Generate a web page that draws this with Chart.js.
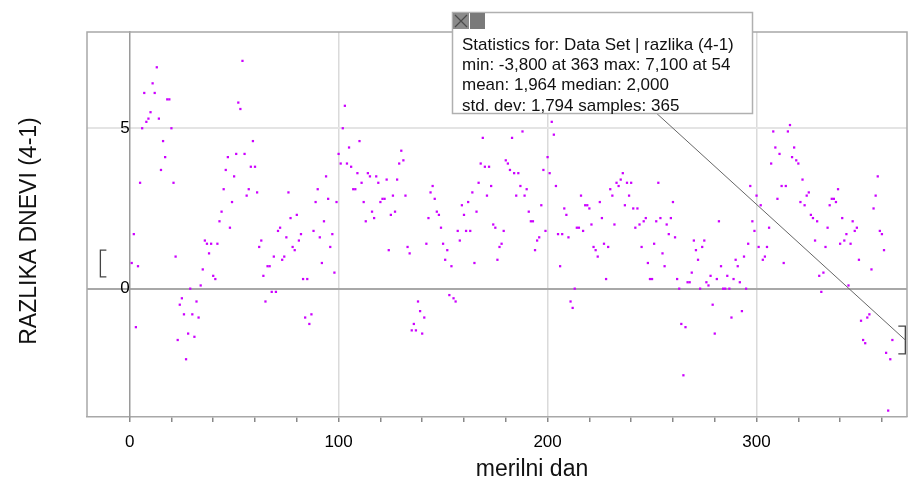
<!DOCTYPE html>
<html>
<head>
<meta charset="utf-8">
<script src="https://cdn.jsdelivr.net/npm/chart.js@4.4.1/dist/chart.umd.min.js"></script>
<style>
html,body{margin:0;padding:0;background:#fff;}
#wrap{width:910px;height:485px;position:relative;}
</style>
</head>
<body>
<div id="wrap"><canvas id="c" width="910" height="485"></canvas></div>
<script>
// Daily values of "razlika (4-1)", day 1..365
const razlika = [
  0.8, 1.7, -1.2, 0.7, 3.3, 5.0, 6.1, 5.2, 5.3, 5.5,
  6.4, 6.1, 6.9, 5.3, 3.7, 4.6, 4.1, 5.9, 5.9, 5.0,
  3.3, 1.0, -1.6, -0.5, -0.3, -0.8, -2.2, -1.4, 0.0, -0.8,
  -1.5, -0.4, -0.9, 0.1, 0.6, 1.5, 1.4, 1.1, 1.4, 0.4,
  0.3, 1.4, 2.1, 2.4, 3.1, 3.7, 4.1, 1.9, 2.7, 3.5,
  4.2, 5.8, 5.6, 7.1, 4.2, 2.9, 3.1, 3.8, 4.6, 3.8,
  3.0, 1.3, 1.5, 0.4, -0.4, 0.7, 0.7, -0.1, 1.0, -0.1,
  1.8, 1.9, 0.9, 1.0, 1.6, 3.0, 2.2, 1.3, 1.2, 2.3,
  1.5, 1.7, 0.3, -0.9, 0.3, -1.1, -0.8, 1.8, 2.7, 3.1,
  1.6, 0.8, 2.1, 3.5, 2.8, 1.3, 1.7, 0.5, 2.7, 4.2,
  3.9, 5.0, 5.7, 3.9, 4.4, 3.8, 3.1, 3.1, 3.6, 4.6,
  3.3, 2.7, 2.1, 3.6, 3.5, 2.4, 2.2, 3.5, 3.3, 2.7,
  2.8, 2.8, 3.4, 1.2, 2.3, 2.9, 2.4, 3.4, 3.9, 4.3,
  4.0, 2.9, 1.3, 1.1, -1.3, -1.1, -1.3, -0.4, -0.7, -1.4,
  -0.9, 1.4, 2.2, 3.0, 3.2, 2.8, 2.4, 2.3, 1.9, 1.4,
  0.9, 1.2, -0.2, 0.7, -0.3, -0.4, 1.8, 1.5, 2.6, 2.3,
  1.8, 2.7, 1.8, 3.0, 0.8, 2.4, 3.3, 3.9, 4.7, 3.8,
  2.9, 3.8, 3.2, 2.0, 1.9, 0.9, 1.3, 1.4, 1.8, 4.0,
  3.9, 3.7, 4.7, 3.6, 2.9, 3.6, 3.2, 4.9, 2.9, 3.1,
  2.4, 2.1, 2.1, 1.2, 1.5, 1.6, 2.6, 3.7, 1.8, 4.1,
  3.6, 5.2, 4.8, 3.2, 1.7, 0.7, 1.7, 2.5, 2.3, 1.6,
  -0.4, -0.6, 0.0, 1.9, 1.9, 2.9, 1.8, 2.6, 2.6, 2.5,
  2.0, 1.3, 1.2, 1.0, 2.7, 2.2, 1.4, 0.3, 1.3, 3.1,
  2.9, 2.0, 3.3, 3.2, 3.4, 3.6, 2.6, 3.3, 2.9, 3.3,
  2.5, 1.9, 2.5, 2.0, 1.3, 2.1, 2.2, 0.8, 0.3, 0.3,
  1.4, 2.1, 3.3, 2.2, 1.1, 0.7, 2.0, 1.7, 2.2, 2.7,
  1.6, 0.3, 0.0, -1.1, -2.7, -1.2, 0.2, 0.2, 0.5, 1.5,
  1.2, 0.9, 0.0, 1.3, 1.5, 0.2, 0.1, 0.4, -0.5, -1.4,
  0.3, 2.1, 0.7, 0.0, 0.0, 0.4, 0.0, -0.9, 0.3, 0.9,
  0.7, 0.2, -0.7, 1.0, 0.0, 1.4, 3.2, 2.1, 1.8, 2.9,
  1.3, 2.6, 0.9, 1.0, 1.3, 1.9, 3.9, 4.9, 4.4, 2.8,
  4.2, 3.2, 0.8, 3.2, 4.9, 5.1, 4.1, 4.4, 4.0, 3.9,
  2.7, 3.4, 2.6, 2.9, 3.0, 2.3, 2.2, 1.5, 2.1, 0.4,
  -0.1, 0.5, 1.3, 1.9, 2.6, 2.8, 2.8, 2.7, 3.1, 1.4,
  2.2, 1.5, 1.7, 0.1, 1.4, 2.1, 1.8, 1.9, 0.9, -1.0,
  -1.6, -1.7, -0.9, -0.8, 0.6, 2.5, 2.9, 3.5, 1.8, 1.7,
  1.2, -2.0, -3.8, -2.2, -1.6
];
const days = razlika.map((_, i) => i + 1);   // merilni dan 1..365
const xTicks = [0, 20, 40, 60, 80, 100, 120, 140, 160, 180, 200, 220, 240, 260, 280, 300, 320, 340, 360];
const xTickLabels = ['0', '', '', '', '', '100', '', '', '', '', '200', '', '', '', '', '300', '', '', ''];
const yTicks = [0, 5];
const yTickLabels = ['0', '5'];
const xTitle = 'merilni dan';
const yTitle = 'RAZLIKA DNEVI (4-1)';
const statsLines = [
  'Statistics for: Data Set | razlika (4-1)',
  'min: -3,800 at 363 max: 7,100 at 54',
  'mean: 1,964 median: 2,000',
  'std. dev: 1,794 samples: 365'
];
const rangeStart = -14, rangeEnd = 371.2;

const FONT = "'Liberation Sans', Arial, sans-serif";
const points = days.map((d, i) => ({x: d, y: razlika[i]}));

const decor = {
  id: 'decor',
  beforeDatasetsDraw(chart) {
    const {ctx, chartArea: a} = chart;
    ctx.save();
    ctx.strokeStyle = '#a8a8a8';
    ctx.lineWidth = 1.5;
    ctx.beginPath();
    ctx.moveTo(a.left, a.bottom);
    ctx.lineTo(a.left, a.top);
    ctx.lineTo(a.right, a.top);
    ctx.lineTo(a.right, a.bottom);
    ctx.stroke();
    ctx.restore();
  },
  afterDraw(chart) {
    const {ctx, chartArea: a, scales: {x, y}} = chart;
    ctx.save();
    // titles
    ctx.fillStyle = '#111';
    ctx.font = '23px ' + FONT;
    ctx.textAlign = 'center';
    ctx.textBaseline = 'middle';
    ctx.fillText(xTitle, 532, 470);
    ctx.save();
    ctx.translate(30, 231);
    ctx.rotate(-Math.PI / 2);
    ctx.fillText(yTitle, 0, 0);
    ctx.restore();

    // range brackets
    ctx.strokeStyle = '#444';
    ctx.lineWidth = 1.3;
    const lx = x.getPixelForValue(rangeStart);
    const ly1 = y.getPixelForValue(1.2), ly2 = y.getPixelForValue(0.37);
    ctx.beginPath();
    ctx.moveTo(lx + 6, ly1); ctx.lineTo(lx, ly1); ctx.lineTo(lx, ly2); ctx.lineTo(lx + 6, ly2);
    ctx.stroke();
    const rx = x.getPixelForValue(rangeEnd);
    const ry1 = y.getPixelForValue(-1.17), ry2 = y.getPixelForValue(-2.03);
    ctx.beginPath();
    ctx.moveTo(rx - 7, ry1); ctx.lineTo(rx, ry1); ctx.lineTo(rx, ry2); ctx.lineTo(rx - 7, ry2);
    ctx.stroke();

    // leader line from stats box to bracket
    const bx = 452, by = 12, bw = 300, bh = 101;
    ctx.strokeStyle = '#666';
    ctx.lineWidth = 1;
    ctx.beginPath();
    ctx.moveTo(x.getPixelForValue(252), by + bh);
    ctx.lineTo(rx, (ry1 + ry2) / 2);
    ctx.stroke();

    // stats box
    ctx.fillStyle = '#fff';
    ctx.fillRect(bx, by, bw, bh);
    ctx.strokeStyle = '#b0b0b0';
    ctx.lineWidth = 1.5;
    ctx.strokeRect(bx + 0.5, by + 0.5, bw, bh);
    // icons
    ctx.fillStyle = '#8a8a8a';
    ctx.fillRect(bx + 1, by + 1, 16, 16);
    ctx.fillStyle = '#7a7a7a';
    ctx.fillRect(bx + 18, by + 1, 15, 16);
    ctx.strokeStyle = '#4a4a4a';
    ctx.lineWidth = 1.2;
    ctx.beginPath();
    ctx.moveTo(bx + 3, by + 3); ctx.lineTo(bx + 15, by + 15);
    ctx.moveTo(bx + 15, by + 3); ctx.lineTo(bx + 3, by + 15);
    ctx.stroke();
    // text
    ctx.fillStyle = '#111';
    ctx.font = '17px ' + FONT;
    ctx.textAlign = 'left';
    ctx.textBaseline = 'middle';
    statsLines.forEach((t, i) => ctx.fillText(t, bx + 10, 45 + i * 20.3));
    ctx.restore();
  }
};

new Chart(document.getElementById('c'), {
  type: 'scatter',
  data: {
    datasets: [{
      data: points,
      pointStyle: 'rect',
      pointRadius: 1.6,
      pointHoverRadius: 1.6,
      pointBorderWidth: 0,
      backgroundColor: 'rgb(204,0,255)',
      borderColor: 'rgb(204,0,255)'
    }]
  },
  options: {
    responsive: false,
    animation: false,
    devicePixelRatio: 1,
    layout: {padding: {left: 87, top: 32, right: 3, bottom: 0}},
    plugins: {legend: {display: false}, tooltip: {enabled: false}},
    scales: {
      x: {
        type: 'linear',
        min: -20.4,
        max: 372,
        afterBuildTicks(s) { s.ticks = xTicks.map(v => ({value: v})); },
        afterFit(s) { s.height = 68; },
        grid: {
          color: c => (c.tick && c.tick.value % 100 === 0 && c.tick.value !== 0) ? '#dadada' : 'rgba(0,0,0,0)',
          lineWidth: 1.5,
          tickColor: '#888',
          tickLength: 5,
          drawTicks: true
        },
        border: {display: true, color: '#a8a8a8', width: 1.5},
        ticks: {
          autoSkip: false,
          maxRotation: 0,
          padding: 10,
          color: '#000',
          font: {family: FONT, size: 17},
          callback: (v, i) => xTickLabels[xTicks.indexOf(v)] ?? ''
        }
      },
      y: {
        type: 'linear',
        position: {x: 0},
        min: -4,
        max: 8,
        afterBuildTicks(s) { s.ticks = yTicks.map(v => ({value: v})); },
        grid: {
          color: c => (c.tick && c.tick.value === 0) ? '#a8a8a8' : '#e4e4e4',
          lineWidth: 2,
          drawTicks: false
        },
        border: {display: true, color: '#9a9a9a', width: 1.5},
        ticks: {
          padding: 5,
          color: '#000',
          font: {family: FONT, size: 17},
          callback: (v) => yTickLabels[yTicks.indexOf(v)] ?? ''
        }
      }
    }
  },
  plugins: [decor]
});
</script>
</body>
</html>
